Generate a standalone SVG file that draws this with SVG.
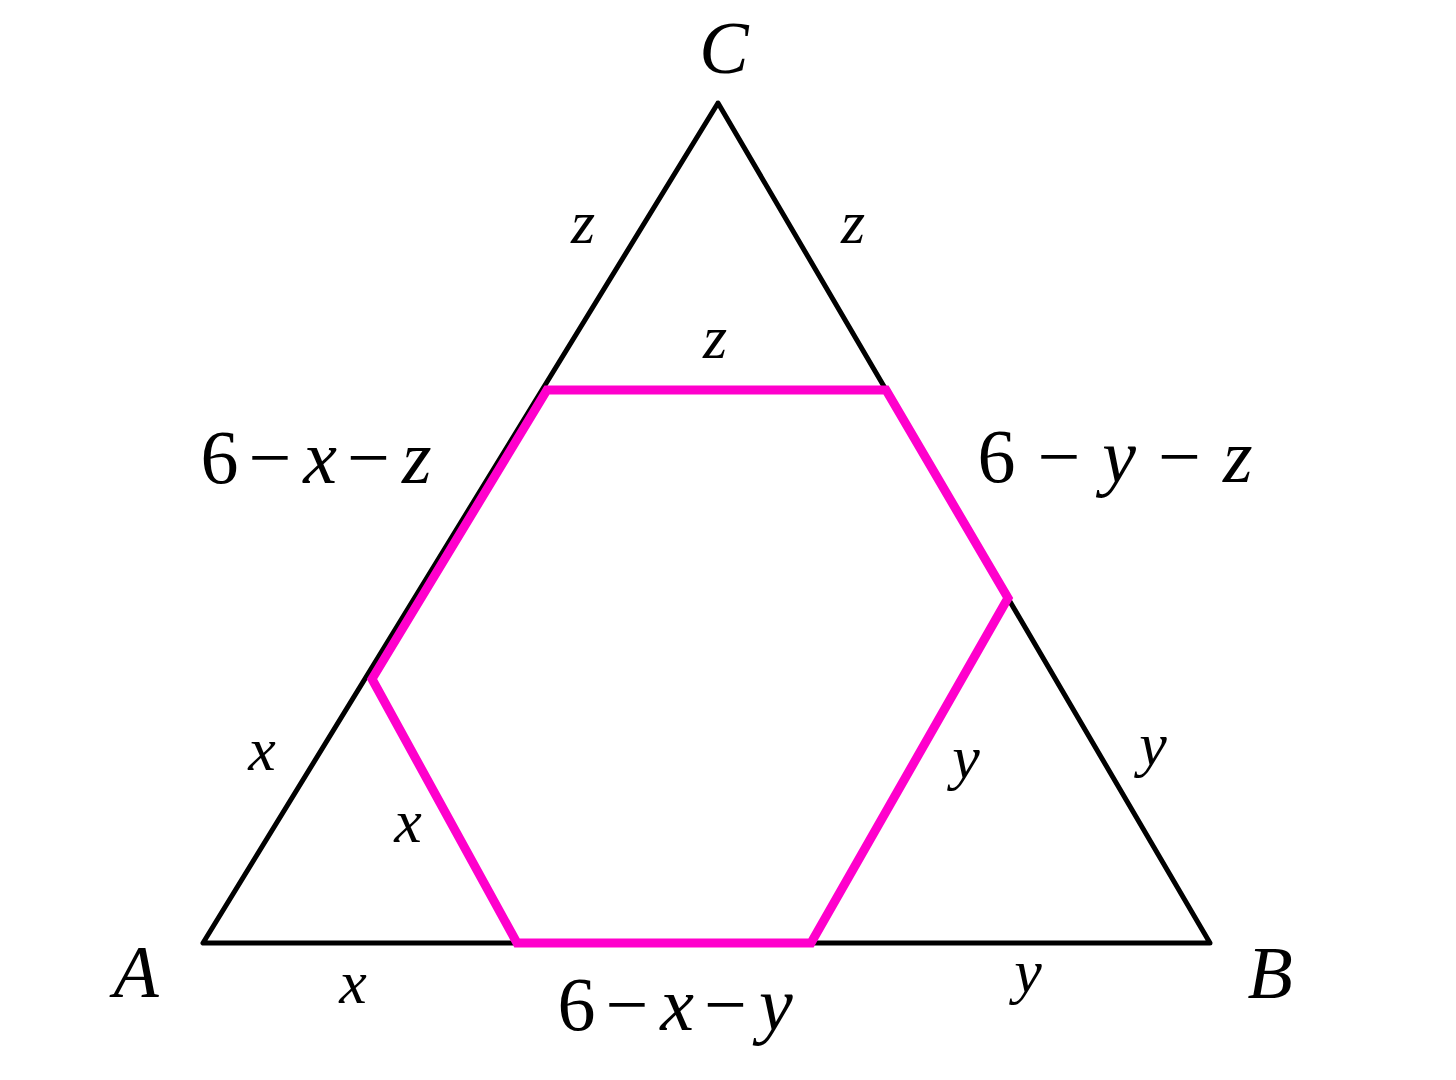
<svg xmlns="http://www.w3.org/2000/svg" width="1456" height="1080" viewBox="0 0 1456 1080">
<style>
.t{font-family:"Liberation Serif","DejaVu Serif",serif;font-style:italic;fill:#000;text-anchor:middle}
.u{font-style:normal}
.big{font-size:74px}
.lbl{font-size:62px}
.expr{font-size:76px}
</style>
<rect width="1456" height="1080" fill="#fff"/>
<polygon points="203,943 1210,943 718,103" fill="none" stroke="#000" stroke-width="5" stroke-linejoin="round"/>
<polygon points="547,390 886,390 1008,598 811,943 517,943 372,679" fill="none" stroke="#ff00cc" stroke-width="9" stroke-linejoin="miter"/>
<text class="t big" x="724" y="73">C</text>
<text class="t big" x="136" y="997">A</text>
<text class="t big" x="1270" y="998">B</text>
<text class="t lbl" x="583" y="243">z</text>
<text class="t lbl" x="853" y="243">z</text>
<text class="t lbl" x="715" y="358">z</text>
<text class="t expr" x="316" y="483"><tspan class="u">6</tspan><tspan class="u" dx="10">−</tspan><tspan dx="12">x</tspan><tspan class="u" dx="10">−</tspan><tspan dx="12">z</tspan></text>
<text class="t expr" x="1115" y="482"><tspan class="u">6</tspan><tspan class="u" dx="22">−</tspan><tspan dx="22">y</tspan><tspan class="u" dx="22">−</tspan><tspan dx="22">z</tspan></text>
<text class="t lbl" x="262" y="770">x</text>
<text class="t lbl" x="408" y="842">x</text>
<text class="t lbl" x="966" y="778">y</text>
<text class="t lbl" x="1153" y="765">y</text>
<text class="t lbl" x="353" y="1003">x</text>
<text class="t lbl" x="1028" y="992">y</text>
<text class="t expr" x="675" y="1030"><tspan class="u">6</tspan><tspan class="u" dx="10">−</tspan><tspan dx="12">x</tspan><tspan class="u" dx="10">−</tspan><tspan dx="12">y</tspan></text>
</svg>
